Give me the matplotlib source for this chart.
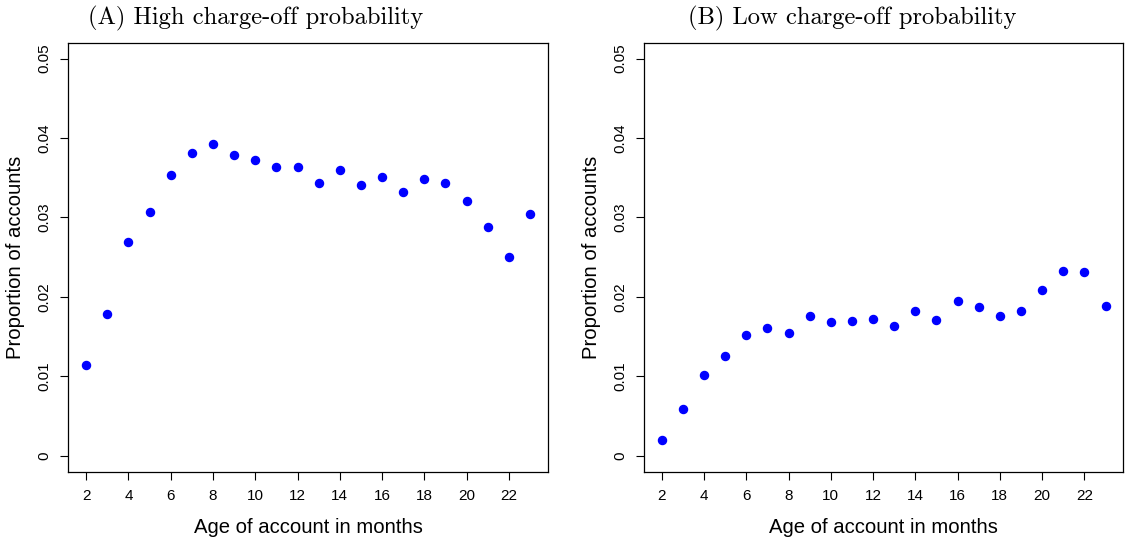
import matplotlib
matplotlib.use("Agg")
import matplotlib.pyplot as plt

plt.rcParams['font.family'] = ['Liberation Sans', 'DejaVu Sans']

# age of account in months
months = list(range(2, 24))

# (A) high charge-off probability
high = [0.01145, 0.01782, 0.02696, 0.03065, 0.03535, 0.03807, 0.03925,
        0.03790, 0.03727, 0.03635, 0.03635, 0.03434, 0.03597, 0.03409,
        0.03505, 0.03317, 0.03488, 0.03438, 0.03203, 0.02876, 0.02499,
        0.03048]

# (B) low charge-off probability
low = [0.00193, 0.00591, 0.01023, 0.01258, 0.01518, 0.01606, 0.01551,
       0.01765, 0.01686, 0.01694, 0.01719, 0.01635, 0.01824, 0.01706,
       0.01950, 0.01870, 0.01761, 0.01824, 0.02088, 0.02323, 0.02314,
       0.01891]

xticks = list(range(2, 24, 2))
yticks = [0, 0.01, 0.02, 0.03, 0.04, 0.05]
ylabels = ["0", "0.01", "0.02", "0.03", "0.04", "0.05"]

titles = ["(A) High charge-off probability", "(B) Low charge-off probability"]
title_x = [256, 852]

fig = plt.figure(figsize=(11.26, 5.4), dpi=100)
ax1 = fig.add_axes([0.0607, 0.1265, 0.4258, 0.7944])
ax2 = fig.add_axes([0.5719, 0.1265, 0.4257, 0.7944])

for ax, vals, title, tx in zip([ax1, ax2], [high, low], titles, title_x):
    ax.plot(months, vals, 'o', color='blue', ms=5.8, mec='blue')
    ax.set_xlim(1.16, 23.84)
    ax.set_ylim(-0.002, 0.052)
    ax.set_xticks(xticks)
    ax.set_yticks(yticks)
    ax.set_yticklabels(ylabels, rotation=90, va='center')
    ax.tick_params(direction='out', length=6, width=0.8, labelsize=11, pad=6.3)
    for s in ax.spines.values():
        s.set_linewidth(0.9)
    ax.set_xlabel("Age of account in months", fontsize=14.6)
    ax.set_ylabel("Proportion of accounts", fontsize=14.6)
    ax.xaxis.set_label_coords(0.5, -0.108)
    ax.yaxis.set_label_coords(-0.0903, 0.5)
    fig.text(tx / 1126, 1 - 18 / 540, title, family='cmr10', fontsize=17.7,
             ha='center', va='center')

fig.savefig("out.png", dpi=100)
